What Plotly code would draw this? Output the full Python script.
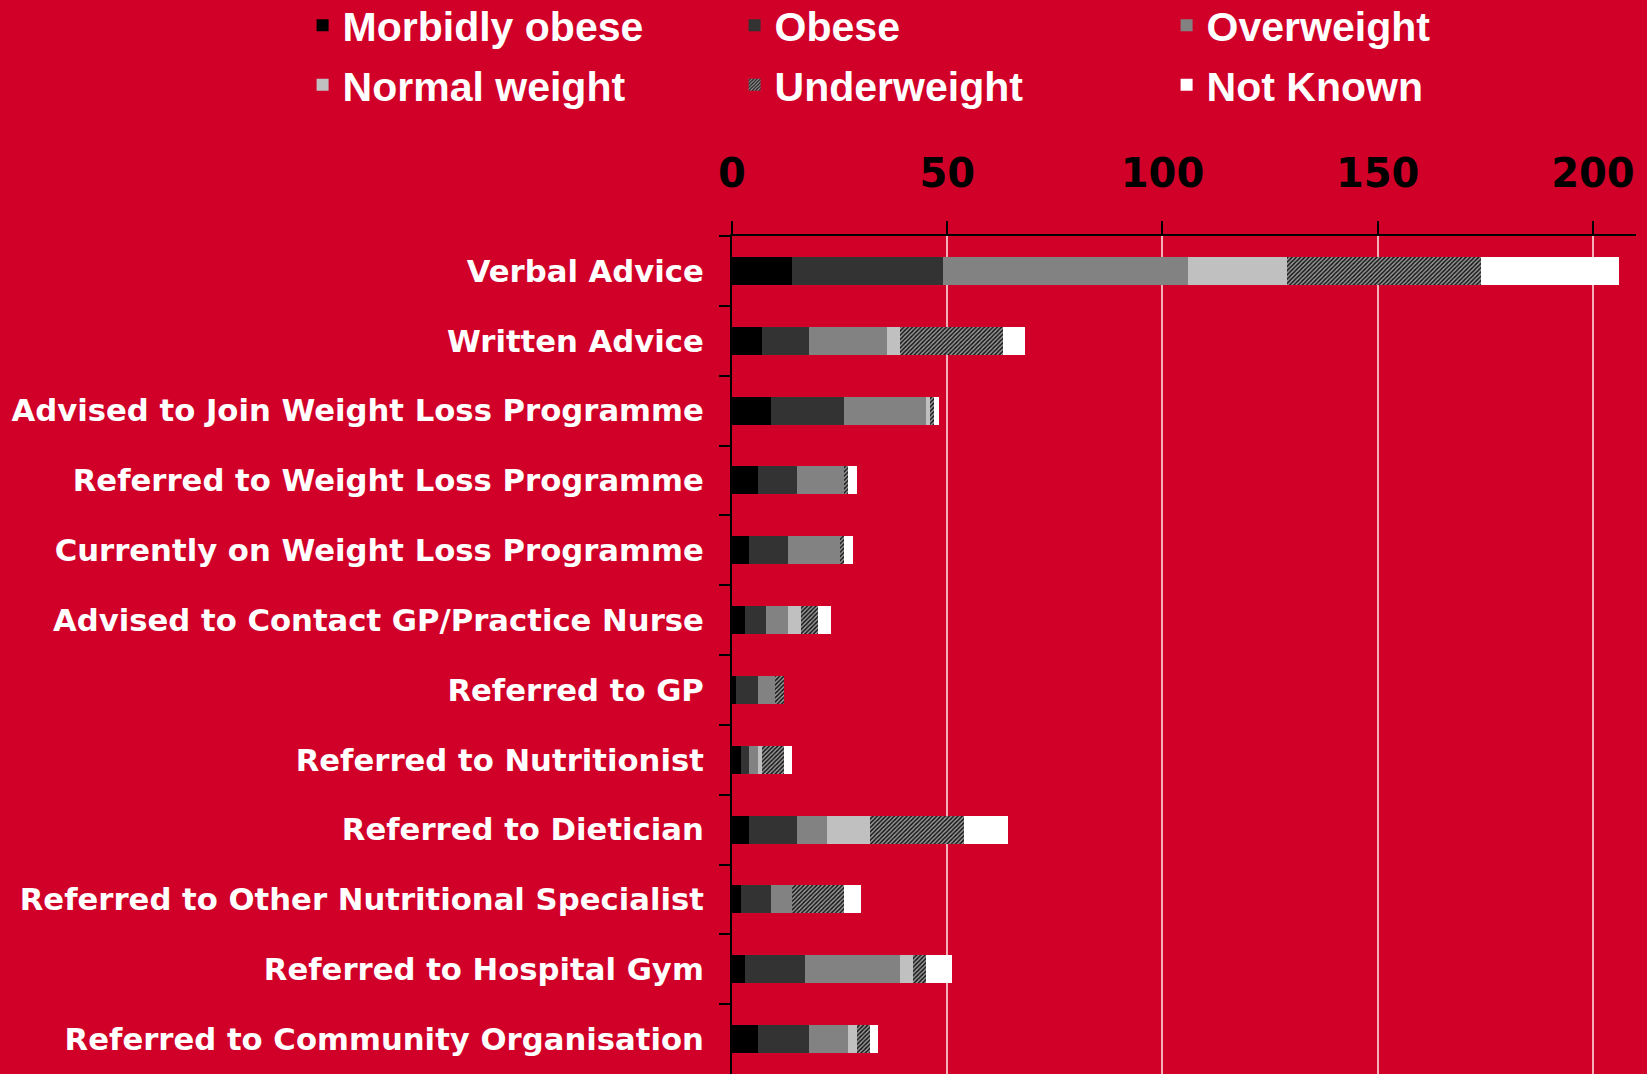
import plotly.graph_objects as go

# Interventions (top to bottom) and counts per BMI group
categories = [
    "Verbal Advice",
    "Written Advice",
    "Advised to Join Weight Loss Programme",
    "Referred to Weight Loss Programme",
    "Currently on Weight Loss Programme",
    "Advised to Contact GP/Practice Nurse",
    "Referred to GP",
    "Referred to Nutritionist",
    "Referred to Dietician",
    "Referred to Other Nutritional Specialist",
    "Referred to Hospital Gym",
    "Referred to Community Organisation",
]

morbidly_obese = [14, 7, 9, 6, 4, 3, 1, 2, 4, 2, 3, 6]
obese = [35, 11, 17, 9, 9, 5, 5, 2, 11, 7, 14, 12]
overweight = [57, 18, 19, 11, 12, 5, 4, 2, 7, 5, 22, 9]
normal_weight = [23, 3, 1, 0, 0, 3, 0, 1, 10, 0, 3, 2]
underweight = [45, 24, 1, 1, 1, 4, 2, 5, 22, 12, 3, 3]
not_known = [32, 5, 1, 2, 2, 3, 0, 2, 10, 4, 6, 2]

x_ticks = [0, 50, 100, 150, 200]

BG = "#D10029"

series = [
    ("Morbidly obese", morbidly_obese, dict(color="#000000"), "legend"),
    ("Obese", obese, dict(color="#333333"), "legend"),
    ("Overweight", overweight, dict(color="#828282"), "legend"),
    ("Normal weight", normal_weight, dict(color="#C0C0C0"), "legend2"),
    ("Underweight", underweight,
     dict(color="#8A8A8A",
          pattern=dict(shape="/", fgcolor="#141414", bgcolor="#9C9C9C",
                       size=3, solidity=0.5, fillmode="replace")),
     "legend2"),
    ("Not Known", not_known, dict(color="#FFFFFF"), "legend2"),
]

fig = go.Figure()
for name, vals, marker, leg in series:
    marker = dict(marker)
    marker["line"] = dict(width=0)
    fig.add_trace(go.Bar(
        name=name, x=vals, y=categories, orientation="h",
        marker=marker, legend=leg,
    ))

legend_common = dict(
    orientation="h",
    traceorder="normal",
    xanchor="left",
    yanchor="middle",
    x=-0.475,
    bgcolor="rgba(0,0,0,0)",
    borderwidth=0,
    entrywidth=387,
    entrywidthmode="pixels",
    font=dict(family="Liberation Sans", size=41, color="#FFFFFF", weight="bold"),
    itemclick=False,
    itemdoubleclick=False,
)

fig.update_layout(
    width=1647,
    height=1074,
    barmode="stack",
    bargap=0.6,
    paper_bgcolor=BG,
    plot_bgcolor=BG,
    margin=dict(l=732, r=11, t=236, b=0, pad=0, autoexpand=False),
    legend=dict(legend_common, y=1.251),
    legend2=dict(legend_common, y=1.180),
    xaxis=dict(
        side="top",
        range=[0, 210],
        tickvals=x_ticks,
        ticktext=[str(v) for v in x_ticks],
        showline=True,
        linecolor="#000000",
        linewidth=2,
        ticks="outside",
        ticklen=13,
        tickwidth=2,
        tickcolor="#000000",
        showgrid=True,
        gridcolor="#F3AEB8",
        gridwidth=1.5,
        zeroline=False,
        ticklabelstandoff=18,
        tickfont=dict(family="DejaVu Sans", size=40, color="#000000", weight="bold"),
        fixedrange=True,
    ),
    yaxis=dict(
        type="category",
        autorange="reversed",
        showline=True,
        linecolor="#000000",
        linewidth=2,
        ticks="outside",
        tickson="boundaries",
        ticklen=11,
        tickwidth=2,
        tickcolor="#000000",
        showgrid=False,
        ticklabelstandoff=20,
        tickfont=dict(family="DejaVu Sans", size=30.7, color="#FFFFFF", weight="bold"),
        fixedrange=True,
    ),
)

fig.write_html("out.html")
